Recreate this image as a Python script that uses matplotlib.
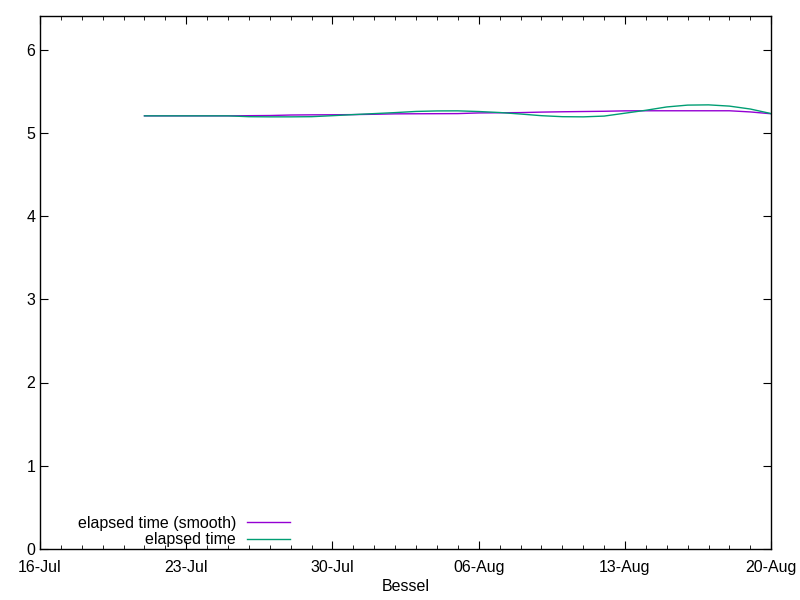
import numpy as np
import matplotlib.pyplot as plt
import matplotlib.dates as mdates
from datetime import date, timedelta

plt.rcParams['font.family'] = ['Liberation Sans', 'DejaVu Sans']

# daily values, 21-Jul to 20-Aug
start = date(2021, 7, 21)
fechas = [start + timedelta(days=i) for i in range(31)]

elapsed = [5.203, 5.203, 5.203, 5.203, 5.203, 5.193, 5.191, 5.191, 5.193, 5.205,
           5.218, 5.230, 5.242, 5.256, 5.262, 5.263, 5.255, 5.243, 5.225, 5.205,
           5.193, 5.191, 5.200, 5.235, 5.270, 5.310, 5.332, 5.335, 5.320, 5.285,
           5.230]

elapsed_smooth = [5.203, 5.203, 5.203, 5.203, 5.203, 5.205, 5.207, 5.213, 5.215, 5.216,
                  5.218, 5.222, 5.227, 5.228, 5.229, 5.230, 5.238, 5.240, 5.242, 5.248,
                  5.252, 5.255, 5.258, 5.263, 5.264, 5.264, 5.264, 5.264, 5.264, 5.250,
                  5.228]

ticks_x = [date(2021, 7, 16) + timedelta(days=7 * i) for i in range(6)]

fig = plt.figure(figsize=(8, 6), dpi=100)
ax = fig.add_axes([0.05, 0.085, 0.914, 0.888])

ax.plot(fechas, elapsed_smooth, color='#9400d3', linewidth=1.0, label='elapsed time (smooth)')
ax.plot(fechas, elapsed, color='#009e73', linewidth=1.0, label='elapsed time')

ax.set_xlim(date(2021, 7, 16), date(2021, 8, 20))
ax.set_ylim(0, 6.4)
ax.set_yticks(range(0, 7))

ax.set_xticks(ticks_x)
ax.xaxis.set_major_formatter(mdates.DateFormatter('%d-%b'))
ax.xaxis.set_minor_locator(mdates.DayLocator())

ax.tick_params(direction='in', which='both', top=True, right=True, labelsize=11.5)
ax.tick_params(which='major', length=6)
ax.tick_params(which='minor', length=3)
ax.tick_params(axis='x', pad=8)
for s in ax.spines.values():
    s.set_linewidth(1.0)

ax.set_xlabel('Bessel', fontsize=11.5, labelpad=3)

ax.legend(loc='lower left', bbox_to_anchor=(0.032, -0.024), frameon=False, markerfirst=False,
          handlelength=2.7, fontsize=11.5, labelspacing=0.1, handletextpad=0.65)

plt.savefig('out.png', dpi=100)
